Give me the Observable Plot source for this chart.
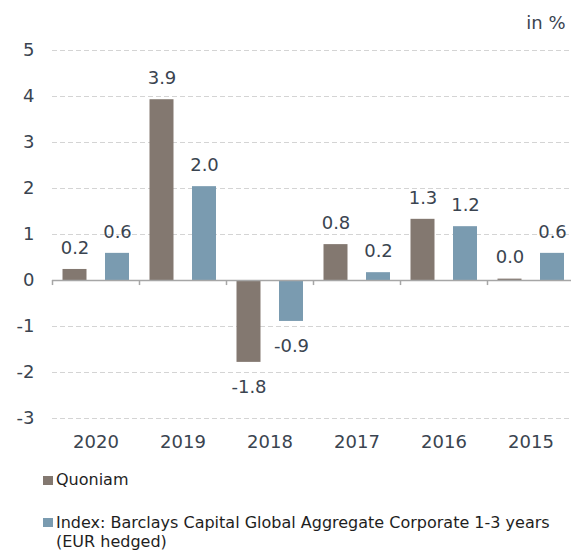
<!DOCTYPE html>
<html>
<head>
<meta charset="utf-8">
<script src="https://cdn.jsdelivr.net/npm/d3@7"></script>
<script src="https://cdn.jsdelivr.net/npm/@observablehq/plot@0.6"></script>
<style>
  body { margin: 0; background: #fff; }
  #wrap { position: relative; width: 571px; height: 550px; overflow: hidden; font-family: "DejaVu Sans", sans-serif; }
  #chart svg { display: block; }
  .sw { position: absolute; left: 43px; width: 10px; height: 9px; }
  .lg { position: absolute; left: 56px; width: 512px; font-size: 16px; line-height: 18.5px; color: #1e1e1e; }
</style>
</head>
<body>
<div id="wrap">
  <div id="chart"></div>
  <div id="legend"></div>
</div>
<script>
const years = ["2020", "2019", "2018", "2017", "2016", "2015"];
const quoniam = [0.24, 3.93, -1.78, 0.78, 1.33, 0.03];
const indexVals = [0.59, 2.04, -0.89, 0.17, 1.17, 0.59];
const seriesNames = ["Quoniam", "Index: Barclays Capital Global Aggregate Corporate 1-3 years (EUR hedged)"];
const seriesColors = ["#837870", "#7a9bb0"];
const yTicks = [-3, -2, -1, 0, 1, 2, 3, 4, 5];
const unitLabel = "in %";

const rows = years.flatMap((y, i) => [
  {year: y, series: 0, value: quoniam[i]},
  {year: y, series: 1, value: indexVals[i]}
]);
const textColor = "#3a4450";
const seriesStyle = [
  {insetLeft: 10.5, insetRight: 52.5, dx: -21},
  {insetLeft: 53, insetRight: 10, dx: 21.5}
];

const marks = [
  Plot.gridY(yTicks.filter(t => t !== 0), {stroke: "#d4d4d4", strokeOpacity: 1, strokeDasharray: "5,3"}),
  Plot.axisY({ticks: yTicks, tickSize: 0, tickPadding: 18, label: null, tickFormat: d => String(d)}),
  Plot.axisX({tickSize: 0, tickPadding: 17, label: null})
];
[0, 1].forEach(s => {
  const data = rows.filter(d => d.series === s);
  marks.push(Plot.barY(data, {x: "year", y: "value", fill: seriesColors[s],
    insetLeft: seriesStyle[s].insetLeft, insetRight: seriesStyle[s].insetRight}));
});
marks.push(Plot.ruleY([0], {stroke: "#a6a6a6", strokeWidth: 1.5}));
marks.push(Plot.ruleX(years, {x: d => d, y1: 0, y2: -0.11, dx: -43.5, stroke: "#a6a6a6", strokeWidth: 1.5}));
[0, 1].forEach(s => {
  const data = rows.filter(d => d.series === s);
  marks.push(Plot.text(data.filter(d => d.value >= 0), {x: "year", y: "value", text: d => d.value.toFixed(1),
    dx: seriesStyle[s].dx, dy: -21.5, fill: textColor}));
  marks.push(Plot.text(data.filter(d => d.value < 0), {x: "year", y: "value", text: d => d.value.toFixed(1),
    dx: seriesStyle[s].dx, dy: 24.5, fill: textColor}));
});
marks.push(Plot.text([unitLabel], {frameAnchor: "top-right", dx: -9, dy: -27, textAnchor: "end", lineAnchor: "middle", fill: textColor}));

const chart = Plot.plot({
  width: 571,
  height: 455,
  marginTop: 50,
  marginBottom: 37,
  marginLeft: 52,
  marginRight: -3,
  x: {domain: years, padding: 0},
  y: {domain: [-3, 5]},
  style: {fontFamily: "DejaVu Sans", fontSize: "18px", color: textColor, background: "#fff", overflow: "hidden"},
  marks
});
document.getElementById("chart").appendChild(chart);

const legend = document.getElementById("legend");
const legendTops = [471.2, 514.2];
const swatchTops = [476, 518];
seriesNames.forEach((name, i) => {
  const sw = document.createElement("div");
  sw.className = "sw";
  sw.style.top = swatchTops[i] + "px";
  sw.style.background = seriesColors[i];
  legend.appendChild(sw);
  const t = document.createElement("div");
  t.className = "lg";
  t.style.top = legendTops[i] + "px";
  t.textContent = name;
  legend.appendChild(t);
});
</script>
</body>
</html>
